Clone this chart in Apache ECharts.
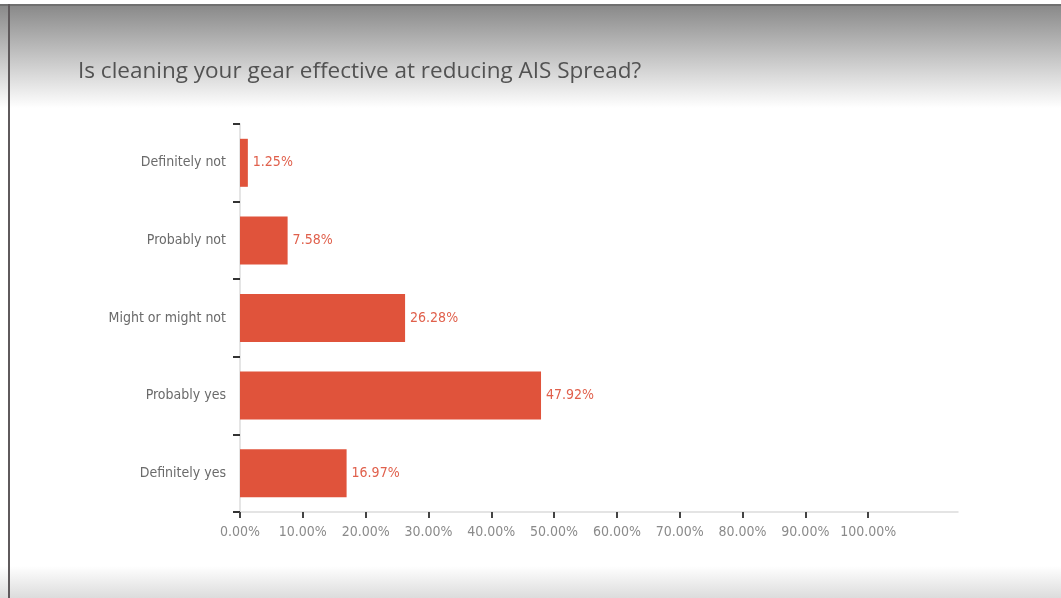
<!DOCTYPE html>
<html>
<head>
<meta charset="utf-8">
<script src="https://cdn.jsdelivr.net/npm/echarts@6/dist/echarts.min.js"></script>
<style>
  html, body { margin: 0; padding: 0; }
  body {
    width: 1061px; height: 598px; overflow: hidden;
    background: linear-gradient(to bottom, #fff 0px, #fff 4px, #707070 4px, #707070 6px, #8a8a8a 6px, #fff 108px, #fff 566px, #dcdcdc 598px);
  }
  .frame {
    position: absolute; left: 8px; top: 4px; width: 2px; height: 594px; background: #5f5a5c;
  }
  .chart { position: absolute; left: 0; top: 0; width: 1061px; height: 598px; }
</style>
</head>
<body>
<div class="frame"></div>
<div class="chart"></div>
<script>
// 数据
const titleText = "Is cleaning your gear effective at reducing AIS Spread?";
const categories = ["Definitely not", "Probably not", "Might or might not", "Probably yes", "Definitely yes"];
const values = [1.25, 7.58, 26.28, 47.92, 16.97];
const tickValues = [0, 10, 20, 30, 40, 50, 60, 70, 80, 90, 100];

const narrow = "'Liberation Sans Narrow', 'DejaVu Sans Condensed', 'Roboto', sans-serif";

(function () {
  const myChart = echarts.init(document.querySelector(".chart"));
  const option = {
    backgroundColor: "transparent",
    animation: false,
    title: {
      text: titleText,
      left: 78,
      top: 60,
      padding: 0,
      textStyle: {
        color: "#525252",
        fontSize: 22.5,
        fontWeight: "normal",
        fontFamily: "'Open Sans', sans-serif"
      }
    },
    grid: {
      left: 240,
      top: 124,
      width: 718,
      height: 388
    },
    xAxis: {
      type: "value",
      min: 0,
      max: 114.3,
      axisLine: {
        show: true,
        lineStyle: { color: "#dcdcdc", width: 1.5 }
      },
      axisTick: {
        show: true,
        customValues: tickValues,
        length: 6,
        lineStyle: { color: "#444", width: 2 }
      },
      axisLabel: {
        customValues: tickValues,
        formatter: (v) => v.toFixed(2) + "%",
        color: "#8a8a8a",
        fontSize: 14,
        fontFamily: narrow,
        margin: 13
      },
      splitLine: { show: false }
    },
    yAxis: {
      type: "category",
      data: categories,
      inverse: true,
      axisLine: {
        show: true,
        lineStyle: { color: "#dcdcdc", width: 1.5 }
      },
      axisTick: {
        show: true,
        length: 7,
        lineStyle: { color: "#333", width: 2 }
      },
      axisLabel: {
        color: "#6a6a6a",
        fontSize: 14,
        fontFamily: narrow,
        margin: 14,
        padding: [6, 0, 0, 0]
      }
    },
    series: [
      {
        type: "bar",
        data: values,
        barWidth: 48,
        itemStyle: { color: "#e0533b" },
        label: {
          show: true,
          position: "right",
          distance: 5,
          formatter: (p) => p.value.toFixed(2) + "%",
          color: "#e0604c",
          fontSize: 14,
          fontFamily: narrow,
          padding: [5, 0, 0, 0]
        }
      }
    ]
  };
  myChart.setOption(option);

  window.addEventListener("resize", () => {
    myChart.resize();
  });
})();
</script>
</body>
</html>
